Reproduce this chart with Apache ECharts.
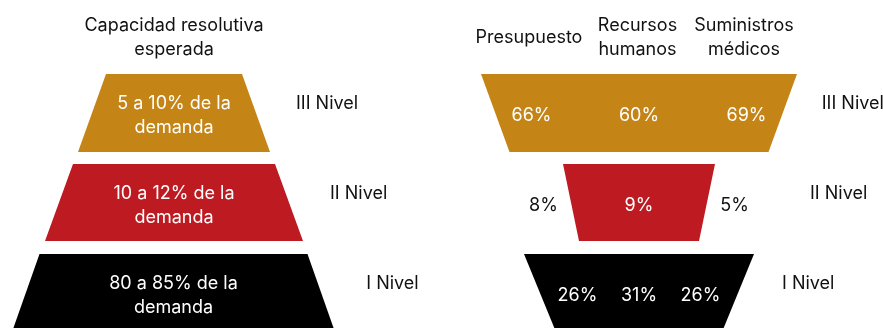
<!DOCTYPE html>
<html><head><meta charset="utf-8">
<script src="https://cdn.jsdelivr.net/npm/echarts@6/dist/echarts.min.js"></script>
<style>html,body{margin:0;padding:0;background:#fff}#c{width:883px;height:328px}</style>
</head><body><div id="c"></div>
<script>
// ---- data ----
const levels = ['III Nivel', 'II Nivel', 'I Nivel'];
const capacidad = ['5 a 10% de la\ndemanda', '10 a 12% de la\ndemanda', '80 a 85% de la\ndemanda'];
const leftTitle = 'Capacidad resolutiva\nesperada';
const columns = ['Presupuesto', 'Recursos\nhumanos', 'Suministros\nmédicos'];
const presupuesto = [66, 8, 26];
const recursosHumanos = [60, 9, 31];
const suministros = [69, 5, 26];

// ---- style ----
const FONT = 'Inter, "Noto Sans", sans-serif';
const FS = 18;
const FW = 400;
const colors = ['#C48416', '#BD1A22', '#000000'];
const TXT = '#111111';

const leftGeom = [
  {left: 78, top: 74, width: 192, height: 78, min: 136, max: 192, lvlLen: 35},
  {left: 45, top: 164, width: 258, height: 77, min: 202, max: 258, lvlLen: 36},
  {left: 12, top: 254, width: 323, height: 78, min: 268, max: 323, lvlLen: 40}
];
const rightGeom = [
  {left: 481, top: 74, width: 316, height: 78, min: 259, max: 316, lvlLen: 34, step: 107.5, cols: ['#fff', '#fff', '#fff']},
  {left: 563, top: 164, width: 152, height: 77, min: 120, max: 152, lvlLen: 98, step: 95.5, cols: [TXT, '#fff', TXT]},
  {left: 524, top: 254, width: 230, height: 78, min: 166, max: 230, lvlLen: 39, step: 61.5, cols: ['#fff', '#fff', '#fff']}
];
const headerPos = [{x: 529, y: 38}, {x: 637.5, y: 38}, {x: 744, y: 38}];

function base(g, sort) {
  return {
    type: 'funnel', sort: sort, left: g.left, top: g.top, width: g.width, height: g.height,
    minSize: g.min, maxSize: g.max, min: 0, max: 1, gap: 0,
    emphasis: {disabled: true}, silent: true, animation: false
  };
}

const series = [];
levels.forEach((lv, i) => {
  const g = leftGeom[i];
  series.push(Object.assign(base(g, 'ascending'), {
    itemStyle: {color: colors[i], borderWidth: 0},
    label: {show: true, position: 'inside', color: '#fff', fontFamily: FONT, fontWeight: FW, fontSize: FS, lineHeight: 24, formatter: capacidad[i]},
    labelLayout: {dy: 3},
    labelLine: {show: false},
    data: [{name: lv, value: 1}]
  }));
  series.push(Object.assign(base(g, 'ascending'), {
    itemStyle: {color: 'rgba(0,0,0,0)', borderWidth: 0},
    label: {show: true, position: 'right', color: TXT, fontFamily: FONT, fontWeight: FW, fontSize: FS, formatter: lv},
    labelLayout: {dy: -9},
    labelLine: {show: false, length: g.lvlLen},
    data: [{name: lv, value: 1}]
  }));
  const r = rightGeom[i];
  const rs = (c) => ({width: r.step, align: 'center', color: c, fontFamily: FONT, fontWeight: FW, fontSize: FS});
  series.push(Object.assign(base(r, 'none'), {
    itemStyle: {color: colors[i], borderWidth: 0},
    label: {show: true, position: 'inside', fontFamily: FONT, fontWeight: FW, fontSize: FS,
      formatter: '{a|' + presupuesto[i] + '%}{b|' + recursosHumanos[i] + '%}{c|' + suministros[i] + '%}',
      rich: {a: rs(r.cols[0]), b: rs(r.cols[1]), c: rs(r.cols[2])}},
    labelLayout: {dy: 3},
    labelLine: {show: false},
    data: [{name: lv, value: 1}]
  }));
  series.push(Object.assign(base(r, 'none'), {
    itemStyle: {color: 'rgba(0,0,0,0)', borderWidth: 0},
    label: {show: true, position: 'right', color: TXT, fontFamily: FONT, fontWeight: FW, fontSize: FS, formatter: lv},
    labelLayout: {dy: -9},
    labelLine: {show: false, length: r.lvlLen},
    data: [{name: lv, value: 1}]
  }));
});

const graphic = [{type: 'text', x: 174, y: 38, style: {text: leftTitle, align: 'center', verticalAlign: 'middle', fontFamily: FONT, fontWeight: FW, fontSize: FS, lineHeight: 24, fill: TXT}}];
columns.forEach((c, i) => graphic.push({type: 'text', x: headerPos[i].x, y: headerPos[i].y,
  style: {text: c, align: 'center', verticalAlign: 'middle', fontFamily: FONT, fontWeight: FW, fontSize: FS, lineHeight: 24, fill: TXT}}));

const chart = echarts.init(document.getElementById('c'), null, {renderer: 'canvas'});
chart.setOption({animation: false, series: series, graphic: graphic});
</script></body></html>
